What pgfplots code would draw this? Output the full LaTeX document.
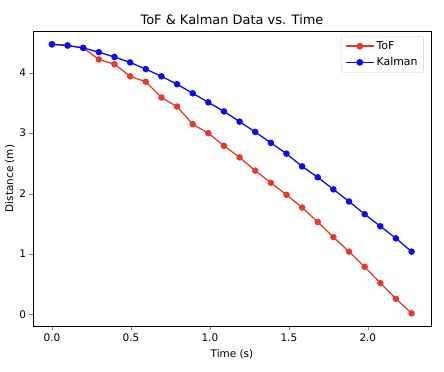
\documentclass[border=0pt]{standalone}
\usepackage{pgfplots}
\pgfplotsset{compat=1.18}
\usepackage{fontspec}
\setmainfont{DejaVu Sans}
\definecolor{tofred}{RGB}{232,57,41}
\definecolor{kalblue}{RGB}{10,10,250}
\begin{document}
\begin{tikzpicture}
\path[use as bounding box] (-33bp,-46bp) rectangle (411bp,326bp);
\begin{axis}[
  at={(0,0)}, anchor=south west,
  width=398bp, height=295bp, scale only axis,
  xmin=-0.12, xmax=2.40, ymin=-0.19, ymax=4.69,
  xtick={0,0.5,1,1.5,2}, xticklabels={0.0,0.5,1.0,1.5,2.0},
  ytick={0,1,2,3,4},
  tick align=outside, tick pos=left,
  major tick length=3.5bp,
  /pgf/number format/assume math mode=true,
  ticklabel style={font=\fontsize{10.5}{12}\selectfont},
  xticklabel style={yshift=-1bp},
  title={ToF \& Kalman Data vs. Time},
  title style={font=\fontsize{13}{15}\selectfont, yshift=-3bp},
  xlabel={Time (s)}, ylabel={Distance (m)},
  xlabel style={yshift=-1bp},
  ylabel style={yshift=-2bp},
  label style={font=\fontsize{10.5}{12}\selectfont},
  legend style={font=\fontsize{11}{13}\selectfont, draw=black!20, rounded corners=2pt,
    row sep=2.5bp, inner xsep=4bp, inner ysep=3bp, at={(0.982,0.982)}, anchor=north east},
  legend cell align=left,
  legend image post style={line width=1.5pt},
  legend image code/.code={
    \draw[mark repeat=2, mark phase=2, line width=1.5pt] (0bp,0bp) -- (28bp,0bp);
    \draw[mark repeat=2, mark phase=2] plot coordinates {(0bp,0bp) (14bp,0bp) (28bp,0bp)};
  },
]
\addplot[color=tofred, line width=1.3pt, mark=*, mark size=2.6pt] table[x=x,y=y] {
x y
0.000 4.47
0.099 4.45
0.198 4.41
0.297 4.22
0.396 4.14
0.495 3.94
0.594 3.85
0.693 3.59
0.792 3.44
0.891 3.15
0.990 3.00
1.089 2.79
1.188 2.60
1.287 2.38
1.386 2.18
1.485 1.98
1.584 1.77
1.683 1.53
1.782 1.28
1.881 1.04
1.980 0.79
2.079 0.52
2.178 0.26
2.277 0.02
};
\addlegendentry{ToF}
\addplot[color=kalblue, line width=1.3pt, mark=*, mark size=2.6pt] table[x=x,y=y] {
x y
0.000 4.47
0.099 4.45
0.198 4.41
0.297 4.34
0.396 4.26
0.495 4.17
0.594 4.06
0.693 3.94
0.792 3.81
0.891 3.66
0.990 3.51
1.089 3.36
1.188 3.19
1.287 3.02
1.386 2.84
1.485 2.66
1.584 2.45
1.683 2.27
1.782 2.07
1.881 1.87
1.980 1.66
2.079 1.46
2.178 1.26
2.277 1.04
};
\addlegendentry{Kalman}
\end{axis}
\end{tikzpicture}
\end{document}
